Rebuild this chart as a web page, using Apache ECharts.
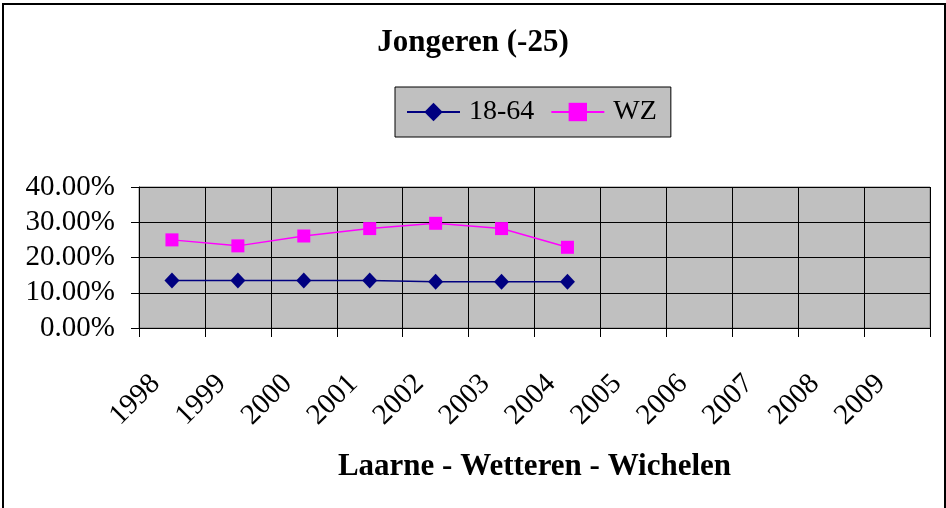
<!DOCTYPE html>
<html>
<head>
<meta charset="utf-8">
<script src="https://cdn.jsdelivr.net/npm/echarts@6/dist/echarts.min.js"></script>
<style>
html,body{margin:0;padding:0;background:#fff;}
#chart{width:946px;height:508px;}
</style>
</head>
<body>
<div id="chart"></div>
<script>
const categories = ['1998','1999','2000','2001','2002','2003','2004','2005','2006','2007','2008','2009'];
const values1864 = [0.135, 0.135, 0.135, 0.135, 0.131, 0.131, 0.131];
const valuesWZ = [0.250, 0.233, 0.261, 0.282, 0.297, 0.282, 0.229];
const seriesNames = ['18-64', 'WZ'];
const chartTitle = 'Jongeren (-25)';
const xAxisTitle = 'Laarne - Wetteren - Wichelen';

const FONT = '"Liberation Serif", "Times New Roman", serif';
const chart = echarts.init(document.getElementById('chart'), null, {renderer: 'canvas'});
chart.setOption({
  animation: false,
  backgroundColor: '#ffffff',
  title: {
    text: chartTitle,
    left: 'center',
    top: 27,
    padding: 0,
    textStyle: {fontFamily: FONT, fontSize: 31, fontWeight: 'bold', color: '#000', lineHeight: 31}
  },
  legend: {
    left: 395,
    top: 87,
    padding: [10, 14, 10, 11],
    itemGap: 16,
    itemWidth: 53,
    itemHeight: 23,
    backgroundColor: '#C0C0C0',
    borderColor: '#000',
    borderWidth: 1,
    textStyle: {fontFamily: FONT, fontSize: 28, color: '#000', lineHeight: 30, padding: [0, 0, 0, 4]},
    data: seriesNames
  },
  graphic: [{
    type: 'rect',
    shape: {x: 3, y: 4, width: 942, height: 520},
    style: {fill: 'none', stroke: '#000', lineWidth: 2},
    silent: true,
    z: 100
  }],
  grid: {
    left: 139, right: 16, top: 187, bottom: 180,
    show: true,
    backgroundColor: '#C0C0C0',
    borderColor: '#808080',
    borderWidth: 1
  },
  xAxis: {
    type: 'category',
    data: categories,
    boundaryGap: true,
    name: xAxisTitle,
    nameLocation: 'middle',
    nameGap: 123,
    nameTextStyle: {fontFamily: FONT, fontSize: 31, fontWeight: 'bold', color: '#000', verticalAlign: 'top'},
    axisLine: {show: true, lineStyle: {color: '#000', width: 1}},
    axisTick: {show: true, length: 9, lineStyle: {color: '#000'}},
    axisLabel: {
      rotate: 45, interval: 0, margin: 35,
      fontFamily: FONT, fontSize: 29, color: '#000',
      padding: [0, 23, 0, 0]
    },
    splitLine: {show: true, interval: 0, lineStyle: {color: '#000', width: 1}}
  },
  yAxis: {
    type: 'value',
    min: 0, max: 0.4, interval: 0.1,
    axisLine: {show: true, lineStyle: {color: '#000', width: 1}},
    axisTick: {show: true, length: 8, lineStyle: {color: '#000'}},
    axisLabel: {
      margin: 24,
      fontFamily: FONT, fontSize: 29, color: '#000',
      formatter: v => (v * 100).toFixed(2) + '%'
    },
    splitLine: {show: true, lineStyle: {color: '#000', width: 1}}
  },
  series: [
    {
      name: seriesNames[0],
      type: 'line',
      data: values1864,
      symbol: 'diamond',
      symbolSize: [15, 16],
      lineStyle: {color: '#000080', width: 1.5},
      itemStyle: {color: '#000080'}
    },
    {
      name: seriesNames[1],
      type: 'line',
      data: valuesWZ,
      symbol: 'rect',
      symbolSize: 13,
      lineStyle: {color: '#FF00FF', width: 1.5},
      itemStyle: {color: '#FF00FF'}
    }
  ]
});
</script>
</body>
</html>
